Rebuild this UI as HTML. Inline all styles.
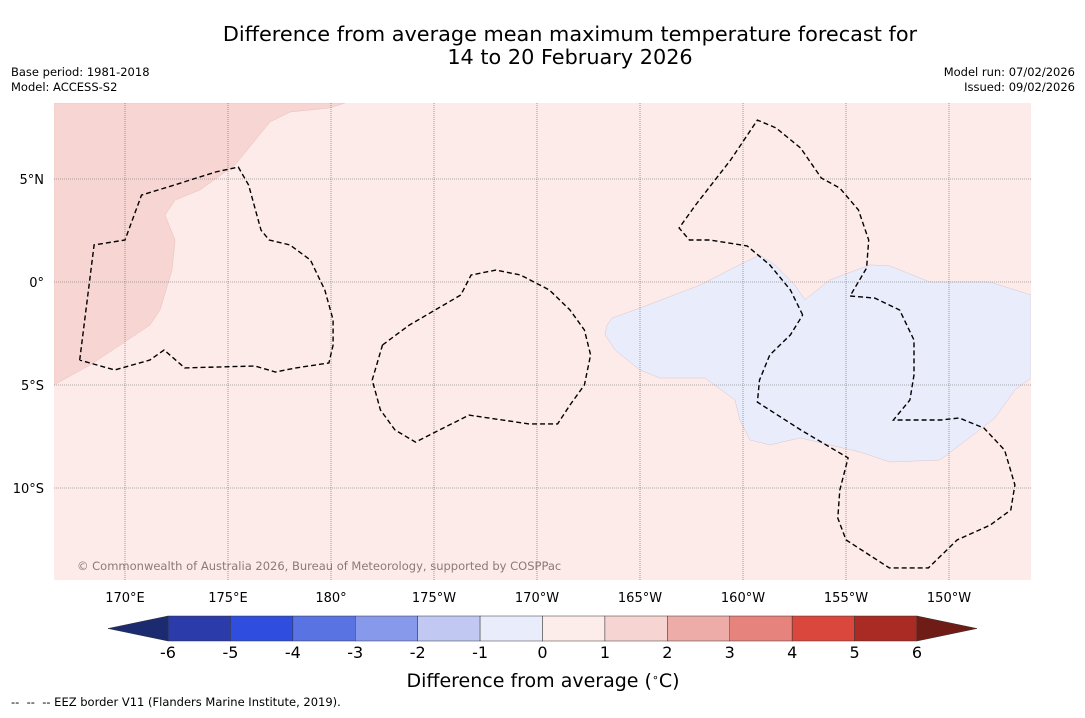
<!DOCTYPE html>
<html><head><meta charset="utf-8"><style>
body{margin:0;background:#fff;font-family:"Liberation Sans","DejaVu Sans",sans-serif}
svg text{font-family:"DejaVu Sans","Liberation Sans",sans-serif}
</style></head><body>
<svg id="c" width="1085" height="713" xmlns="http://www.w3.org/2000/svg">
<text x="570" y="41" font-size="20.8" text-anchor="middle">Difference from average mean maximum temperature forecast for</text>
<text x="570" y="64" font-size="20.8" text-anchor="middle">14 to 20 February 2026</text>
<text x="11" y="76" font-size="11.5">Base period: 1981-2018</text>
<text x="11" y="91" font-size="11.5">Model: ACCESS-S2</text>
<text x="1075" y="76" font-size="11.5" text-anchor="end">Model run: 07/02/2026</text>
<text x="1075" y="91" font-size="11.5" text-anchor="end">Issued: 09/02/2026</text>
<defs><clipPath id="mc"><rect x="54" y="103" width="977" height="477"/></clipPath></defs>
<g id="map" clip-path="url(#mc)"></g>
<g id="axes"></g>
<g id="cbar"></g>
<text x="543" y="687" font-size="19" text-anchor="middle">Difference from average (<tspan baseline-shift="super" font-size="11">∘</tspan>C)</text>
<text x="11" y="706" font-size="11.5" style="white-space:pre">--  --  -- EEZ border V11 (Flanders Marine Institute, 2019).</text>
</svg>
<script>
const lonTicks=[170,175,180,185,190,195,200,205,210];
const lonLabels=["170°E","175°E","180°","175°W","170°W","165°W","160°W","155°W","150°W"];
const latTicks=[5,0,-5,-10];
const latLabels=["5°N","0°","5°S","10°S"];
const cbLevels=[-6,-5,-4,-3,-2,-1,0,1,2,3,4,5,6];
const cbColors=["#2b3baa","#2f4ee0","#5a73e2","#8799eb","#c1c9f3","#e9ecfb","#fcecea","#f6d4d1","#edaca7","#e6837c","#da483d","#aa2b23"];
const pinkRegion=[[166.55,8.69],[180.68,8.69],[179.95,8.45],[178.01,8.25],[177.04,7.77],[175.34,5.68],[173.64,4.47],[172.43,3.98],[171.94,3.25],[172.43,2.04],[172.28,0.58],[171.7,-1.36],[171.21,-2.09],[169.76,-3.06],[168.3,-4.03],[166.55,-5.0]];
const blueRegion=[[193.4,-2.09],[193.64,-1.75],[195,-1.26],[197.91,-0.15],[200.1,0.97],[200.82,1.31],[201.55,0.83],[202.52,-0.15],[203.01,-0.87],[204.22,0.1],[206.16,0.83],[207.13,0.78],[209.07,0],[211.99,0],[213.98,-0.63],[213.98,-4.66],[213.2,-5.24],[212.23,-6.6],[210.53,-7.91],[209.56,-8.64],[207.13,-8.74],[205.68,-8.25],[202.77,-7.57],[201.31,-7.91],[200.34,-7.67],[199.85,-6.7],[199.61,-5.73],[198.15,-4.66],[195.97,-4.66],[195,-4.27],[193.79,-3.3],[193.3,-2.57]];
const eez1=[[167.8,-3.79],[168.5,1.8],[170,2.04],[170.8,4.22],[172.4,4.71],[174.4,5.34],[175.5,5.58],[176,4.71],[176.6,2.52],[177,2.04],[178,1.8],[179,1.07],[179.7,-0.39],[180.1,-1.84],[180.1,-3.06],[179.9,-3.93],[178.3,-4.17],[177.3,-4.37],[176.3,-4.08],[172.9,-4.17],[171.9,-3.3],[171.2,-3.79],[169.5,-4.27],[167.8,-3.79]];
const eez2=[[182.5,-3.06],[183.8,-2.09],[186.3,-0.63],[186.8,0.34],[188,0.58],[189.2,0.34],[190.6,-0.39],[191.6,-1.36],[192.3,-2.33],[192.6,-3.54],[192.3,-5],[191.6,-5.97],[191,-6.89],[189.6,-6.89],[186.7,-6.46],[184.1,-7.77],[183.1,-7.18],[182.4,-6.21],[182,-4.76],[182.5,-3.06]];
const eez3a=[[202.9,-1.6],[202.3,-0.39],[201.3,0.83],[200.2,1.75],[198.4,2.04],[197.4,2.04],[196.9,2.62],[197.7,3.74],[199.4,5.92],[200.7,7.86],[201.6,7.48],[202.8,6.5],[203.8,5.05],[204.7,4.56],[205.6,3.5],[206.1,2.04],[206,0.68],[205.2,-0.68]];
const eez3b=[[205.2,-0.68],[206.4,-0.78],[207.6,-1.36],[208.3,-2.82],[208.3,-4.51],[208.1,-5.73],[207.3,-6.7],[209.6,-6.7],[210.5,-6.6],[211.7,-7.09],[212.7,-8.16],[213.2,-9.85],[213,-11.07],[212,-11.8],[210.4,-12.52],[209,-13.88],[207.1,-13.88],[205,-12.52],[204.6,-11.46],[204.7,-10.1],[205.1,-8.54],[202.8,-7.18],[200.7,-5.83],[200.8,-4.76],[201.3,-3.54],[202.3,-2.57],[202.9,-1.6]];
const NS="http://www.w3.org/2000/svg";
const X=lon=>125+(lon-170)*20.6, Y=lat=>282-lat*20.6;
const cbX=v=>168+(v+6)*(749/12);
function mk(tag,attrs,parent){const e=document.createElementNS(NS,tag);for(const k in attrs)e.setAttribute(k,attrs[k]);parent.appendChild(e);return e;}
const map=document.getElementById('map'),axes=document.getElementById('axes'),cb=document.getElementById('cbar');
const pts=a=>a.map(p=>X(p[0]).toFixed(1)+','+Y(p[1]).toFixed(1)).join(' ');
let bg=mk('rect',{x:54,y:103,width:977,height:477,fill:'#fcebe8'},map);

let pr=mk('polygon',{points:pts(pinkRegion),fill:'#f6d5d2',stroke:'#e8c0bc','stroke-width':0.5},map);

let br=mk('polygon',{points:pts(blueRegion),fill:'#e9ecfb',stroke:'#d9c6d0','stroke-width':0.5},map);

lonTicks.forEach((l,i)=>{
 let g=mk('line',{x1:X(l),x2:X(l),y1:103,y2:580,stroke:'#666','stroke-width':0.6,'stroke-dasharray':'1,1'},map);
 
 let t=mk('text',{x:X(l),y:602,'font-size':13,'text-anchor':'middle'},axes);t.textContent=lonLabels[i];
 
});
latTicks.forEach((l,i)=>{
 let g=mk('line',{x1:54,x2:1031,y1:Y(l),y2:Y(l),stroke:'#666','stroke-width':0.6,'stroke-dasharray':'1,1'},map);
 
 let t=mk('text',{x:44,y:Y(l)+5,'font-size':13,'text-anchor':'end'},axes);t.textContent=latLabels[i];
 
});
[eez1,eez2,eez3a,eez3b].forEach(a=>{
 let p=mk('polyline',{points:pts(a),fill:'none',stroke:'#000','stroke-width':1.4,'stroke-dasharray':'5,3'},map);
 
});
let cp=mk('text',{x:77,y:570,'font-size':11.5,fill:'#8a7a78'},map);cp.textContent='© Commonwealth of Australia 2026, Bureau of Meteorology, supported by COSPPac';

for(let i=0;i<cbColors.length;i++){
 let r=mk('rect',{x:cbX(cbLevels[i]),y:616,width:cbX(cbLevels[i+1])-cbX(cbLevels[i]),height:25,fill:cbColors[i],stroke:'#333','stroke-width':0.5},cb);
 
}
let lt=mk('polygon',{points:`108,628.5 ${cbX(-6)},616 ${cbX(-6)},641`,fill:'#1c2a70',stroke:'#333','stroke-width':0.5},cb);

let rt=mk('polygon',{points:`977,628.5 ${cbX(6)},616 ${cbX(6)},641`,fill:'#701c16',stroke:'#333','stroke-width':0.5},cb);

cbLevels.forEach(v=>{
 let t=mk('text',{x:cbX(v),y:658,'font-size':16,'text-anchor':'middle'},cb);t.textContent=String(v);
 
});
</script>
</body></html>
